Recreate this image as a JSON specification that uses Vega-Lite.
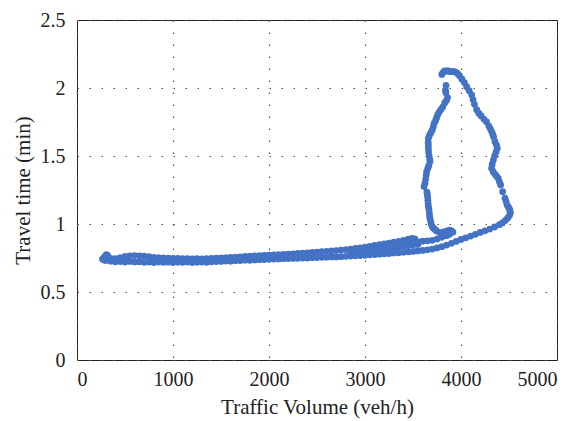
{
  "$schema": "https://vega.github.io/schema/vega-lite/v6.json",
  "autosize": {"type": "none"},
  "width": 480,
  "height": 340,
  "padding": {"left": 77, "top": 20, "right": 21, "bottom": 61},
  "background": "white",
  "config": {
    "font": "Liberation Serif",
    "view": {"stroke": "#222", "strokeWidth": 1},
    "axis": {
      "domain": false,
      "ticks": false,
      "tickSize": 0,
      "grid": true,
      "gridColor": "#555",
      "gridDash": [1.5, 10.5],
      "gridWidth": 1.2,
      "labelFont": "Liberation Serif",
      "labelFontSize": 20,
      "labelColor": "#222",
      "titleFont": "Liberation Serif",
      "titleFontSize": 21,
      "titleFontWeight": "normal",
      "titleColor": "#222"
    }
  },
  "datasets": {
    "pts": [
      {"v":265,"t":0.742},{"v":280,"t":0.752},{"v":295,"t":0.764},{"v":305,"t":0.775},{"v":318,"t":0.77},{"v":285,"t":0.735},{"v":300,"t":0.74},
      {"v":300,"t":0.732},{"v":350,"t":0.727},{"v":400,"t":0.722},{"v":450,"t":0.724},{"v":500,"t":0.72},{"v":550,"t":0.725},{"v":600,"t":0.721},{"v":650,"t":0.723},{"v":700,"t":0.718},{"v":750,"t":0.72},
      {"v":800,"t":0.717},{"v":850,"t":0.72},{"v":900,"t":0.718},{"v":950,"t":0.719},{"v":1000,"t":0.716},{"v":1050,"t":0.719},{"v":1100,"t":0.718},{"v":1150,"t":0.72},{"v":1200,"t":0.717},{"v":1250,"t":0.719},
      {"v":1300,"t":0.72},{"v":1350,"t":0.718},{"v":1400,"t":0.722},{"v":1450,"t":0.724},{"v":1500,"t":0.725},{"v":1550,"t":0.728},{"v":1600,"t":0.727},{"v":1650,"t":0.73},{"v":1700,"t":0.731},{"v":1750,"t":0.734},
      {"v":1800,"t":0.733},{"v":1850,"t":0.736},{"v":1900,"t":0.738},{"v":1950,"t":0.739},{"v":2000,"t":0.74},{"v":2050,"t":0.742},{"v":2100,"t":0.743},{"v":2150,"t":0.745},{"v":2200,"t":0.746},{"v":2250,"t":0.747},
      {"v":2300,"t":0.748},{"v":2350,"t":0.75},{"v":2400,"t":0.75},{"v":2450,"t":0.752},{"v":2500,"t":0.753},{"v":2550,"t":0.755},{"v":2600,"t":0.756},{"v":2650,"t":0.758},{"v":2700,"t":0.758},{"v":2750,"t":0.76},
      {"v":350,"t":0.748},{"v":400,"t":0.745},{"v":450,"t":0.753},{"v":500,"t":0.762},{"v":550,"t":0.766},{"v":600,"t":0.768},{"v":650,"t":0.766},{"v":700,"t":0.763},{"v":750,"t":0.76},{"v":800,"t":0.755},
      {"v":850,"t":0.753},{"v":900,"t":0.751},{"v":950,"t":0.749},{"v":1000,"t":0.748},{"v":1050,"t":0.747},{"v":1100,"t":0.745},{"v":1150,"t":0.745},{"v":1200,"t":0.744},{"v":1250,"t":0.745},{"v":1300,"t":0.744},
      {"v":1350,"t":0.745},{"v":1400,"t":0.747},{"v":1450,"t":0.749},{"v":1500,"t":0.751},{"v":1550,"t":0.753},{"v":1600,"t":0.755},{"v":1650,"t":0.757},{"v":1700,"t":0.759},{"v":1750,"t":0.762},{"v":1800,"t":0.763},
      {"v":1850,"t":0.765},{"v":1900,"t":0.767},{"v":1950,"t":0.769},{"v":2000,"t":0.771},{"v":2050,"t":0.773},{"v":2100,"t":0.775},{"v":2150,"t":0.777},{"v":2200,"t":0.779},{"v":2250,"t":0.781},{"v":2300,"t":0.784},
      {"v":2350,"t":0.786},{"v":2400,"t":0.788},{"v":2450,"t":0.791},{"v":2500,"t":0.793},{"v":2550,"t":0.796},{"v":2600,"t":0.799},{"v":2650,"t":0.802},{"v":2700,"t":0.805},{"v":2750,"t":0.808},
      {"v":2800,"t":0.762},{"v":2850,"t":0.764},{"v":2900,"t":0.766},{"v":2950,"t":0.768},{"v":3000,"t":0.77},{"v":3050,"t":0.773},{"v":3100,"t":0.775},{"v":3150,"t":0.778},{"v":3200,"t":0.78},{"v":3250,"t":0.783},
      {"v":3300,"t":0.786},{"v":3350,"t":0.788},{"v":3400,"t":0.792},{"v":3450,"t":0.795},{"v":3500,"t":0.798},{"v":3550,"t":0.802},{"v":3600,"t":0.806},{"v":3650,"t":0.81},{"v":3700,"t":0.816},{"v":3750,"t":0.824},
      {"v":3800,"t":0.833},{"v":3850,"t":0.845},{"v":3900,"t":0.858},{"v":3950,"t":0.872},{"v":4000,"t":0.886},{"v":4050,"t":0.898},{"v":4100,"t":0.911},{"v":4150,"t":0.924},{"v":4200,"t":0.938},{"v":4250,"t":0.95},
      {"v":4300,"t":0.963},{"v":4350,"t":0.978},{"v":4400,"t":0.995},{"v":4430,"t":1.008},{"v":4460,"t":1.025},{"v":4485,"t":1.043},{"v":4505,"t":1.063},{"v":4515,"t":1.083},{"v":4510,"t":1.1},
      {"v":2800,"t":0.812},{"v":2850,"t":0.816},{"v":2900,"t":0.82},{"v":2950,"t":0.825},{"v":3000,"t":0.83},{"v":3050,"t":0.836},{"v":3100,"t":0.842},{"v":3150,"t":0.848},{"v":3200,"t":0.854},{"v":3250,"t":0.86},
      {"v":3300,"t":0.866},{"v":3350,"t":0.873},{"v":3400,"t":0.88},{"v":3450,"t":0.888},{"v":3490,"t":0.895},{"v":3520,"t":0.89},
      {"v":2850,"t":0.789},{"v":2900,"t":0.792},{"v":2950,"t":0.796},{"v":3000,"t":0.8},{"v":3050,"t":0.804},{"v":3100,"t":0.808},{"v":3150,"t":0.812},{"v":3200,"t":0.816},{"v":3250,"t":0.82},{"v":3300,"t":0.825},
      {"v":3350,"t":0.83},{"v":3400,"t":0.835},{"v":3450,"t":0.84},{"v":3500,"t":0.845},{"v":3550,"t":0.85},
      {"v":3250,"t":0.84},{"v":3300,"t":0.846},{"v":3350,"t":0.852},{"v":3400,"t":0.858},{"v":3450,"t":0.865},{"v":3500,"t":0.87},{"v":3550,"t":0.868},
      {"v":3600,"t":0.874},{"v":3650,"t":0.876},{"v":3700,"t":0.88},{"v":3750,"t":0.889},{"v":3800,"t":0.902},{"v":3850,"t":0.914},{"v":3880,"t":0.924},
      {"v":3780,"t":0.935},{"v":3810,"t":0.94},{"v":3840,"t":0.945},{"v":3860,"t":0.95},{"v":3880,"t":0.955},{"v":3900,"t":0.95},{"v":3915,"t":0.94},{"v":3890,"t":0.935},{"v":3860,"t":0.93},{"v":3830,"t":0.925},
      {"v":3800,"t":2.1},{"v":3815,"t":2.115},{"v":3830,"t":2.125},{"v":3850,"t":2.125},{"v":3870,"t":2.125},{"v":3890,"t":2.12},{"v":3910,"t":2.12},{"v":3930,"t":2.12},{"v":3950,"t":2.115},{"v":3965,"t":2.105},
      {"v":3844,"t":2.02},{"v":3838,"t":1.985},{"v":3842,"t":1.965},
      {"v":3860,"t":1.93},{"v":3850,"t":1.91},{"v":3830,"t":1.89},{"v":3810,"t":1.86},{"v":3790,"t":1.84},{"v":3770,"t":1.82},{"v":3755,"t":1.8},{"v":3745,"t":1.78},{"v":3735,"t":1.76},{"v":3720,"t":1.74},
      {"v":3712,"t":1.715},{"v":3700,"t":1.69},{"v":3685,"t":1.67},{"v":3670,"t":1.65},{"v":3660,"t":1.63},{"v":3658,"t":1.6},{"v":3660,"t":1.58},{"v":3660,"t":1.556},{"v":3662,"t":1.53},{"v":3668,"t":1.5},
      {"v":3675,"t":1.475},{"v":3677,"t":1.458},{"v":3665,"t":1.43},{"v":3655,"t":1.41},{"v":3642,"t":1.385},{"v":3638,"t":1.36},{"v":3632,"t":1.33},{"v":3625,"t":1.3},{"v":3615,"t":1.275},
      {"v":3645,"t":1.235},{"v":3649,"t":1.22},{"v":3652,"t":1.2},{"v":3655,"t":1.175},{"v":3658,"t":1.15},{"v":3660,"t":1.13},{"v":3665,"t":1.11},{"v":3670,"t":1.085},{"v":3673,"t":1.06},{"v":3677,"t":1.04},
      {"v":3685,"t":1.015},{"v":3694,"t":0.99},{"v":3705,"t":0.975},{"v":3720,"t":0.965},{"v":3735,"t":0.955},{"v":3747,"t":0.948},
      {"v":3985,"t":2.09},{"v":4010,"t":2.065},{"v":4035,"t":2.04},{"v":4059,"t":2.01},{"v":4085,"t":1.98},{"v":4111,"t":1.95},{"v":4125,"t":1.915},{"v":4140,"t":1.88},{"v":4163,"t":1.84},{"v":4185,"t":1.815},
      {"v":4210,"t":1.795},{"v":4240,"t":1.77},{"v":4267,"t":1.75},{"v":4290,"t":1.72},{"v":4305,"t":1.7},{"v":4319,"t":1.68},{"v":4330,"t":1.66},{"v":4340,"t":1.64},{"v":4354,"t":1.605},{"v":4370,"t":1.58},
      {"v":4378,"t":1.556},{"v":4365,"t":1.53},{"v":4350,"t":1.5},{"v":4337,"t":1.47},{"v":4325,"t":1.44},{"v":4319,"t":1.41},{"v":4335,"t":1.385},{"v":4355,"t":1.365},{"v":4372,"t":1.35},{"v":4389,"t":1.335},
      {"v":4400,"t":1.31},{"v":4413,"t":1.287},{"v":4434,"t":1.238},{"v":4458,"t":1.19},{"v":4470,"t":1.165},{"v":4480,"t":1.14},{"v":4493,"t":1.125},{"v":4505,"t":1.11}
    ]
  },
  "data": {"name": "pts"},
  "mark": {"type": "circle", "size": 46, "color": "#4472C4", "opacity": 1},
  "encoding": {
    "x": {
      "field": "v",
      "type": "quantitative",
      "title": "Traffic Volume (veh/h)",
      "scale": {"domain": [0, 5000], "nice": false},
      "axis": {"values": [0, 1000, 2000, 3000, 4000, 5000], "format": "d", "labelPadding": 9, "titleBaseline": "alphabetic", "titleY": 53}
    },
    "y": {
      "field": "t",
      "type": "quantitative",
      "title": "Travel time (min)",
      "scale": {"domain": [0, 2.5], "nice": false},
      "axis": {"values": [0, 0.5, 1, 1.5, 2, 2.5], "labelExpr": "datum.value + ''", "labelPadding": 12, "titleBaseline": "alphabetic", "titleX": -48}
    }
  }
}
